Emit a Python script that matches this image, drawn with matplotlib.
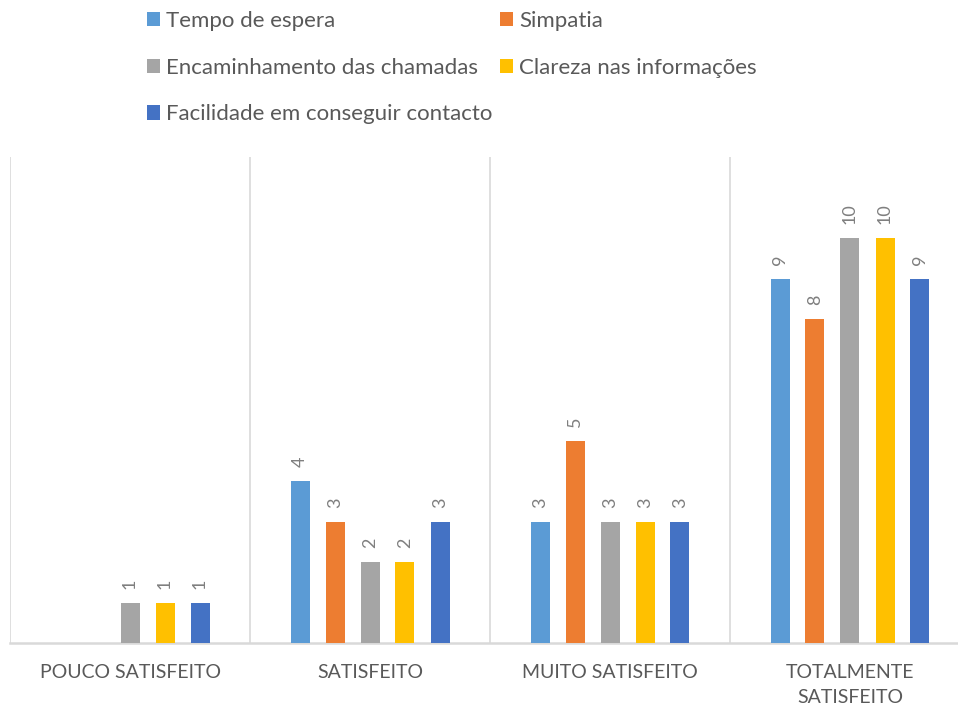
import numpy as np
import matplotlib.pyplot as plt
from matplotlib.patches import Patch

plt.rcParams['font.family'] = ['Lato', 'DejaVu Sans']

# Data
categories = ['POUCO SATISFEITO', 'SATISFEITO', 'MUITO SATISFEITO', 'TOTALMENTE\nSATISFEITO']
series = ['Tempo de espera', 'Simpatia', 'Encaminhamento das chamadas',
          'Clareza nas informações', 'Facilidade em conseguir contacto']
tempo = [0, 4, 3, 9]
simpatia = [0, 3, 5, 8]
encaminhamento = [1, 2, 3, 10]
clareza = [1, 2, 3, 10]
facilidade = [1, 3, 3, 9]
values = [tempo, simpatia, encaminhamento, clareza, facilidade]
colors = ['#5B9BD5', '#ED7D31', '#A5A5A5', '#FFC000', '#4472C4']

W, H = 958, 707
fig = plt.figure(figsize=(W / 100, H / 100), dpi=100)
ax = fig.add_axes([10 / W, (H - 643) / H, 960 / W, (643 - 157) / H])

x = np.arange(len(categories))
step = 35 / 240
width = 19 / 240
for i, (vals, c) in enumerate(zip(values, colors)):
    pos = x + (i - 2) * step
    bars = ax.bar(pos, vals, width=width, color=c, zorder=3)
    for b, v in zip(bars, vals):
        if v == 0:
            continue
        ax.annotate(str(v), (b.get_x() + b.get_width() / 2, v),
                    xytext=(0, 10), textcoords='offset points',
                    ha='center', va='bottom', rotation=90,
                    fontsize=13, color='#7F7F7F')

ax.set_xlim(-0.5, 3.5)
ax.set_ylim(0, 12)
ax.set_yticks([])
ax.set_xticks(x)
ax.set_xticklabels(categories, fontsize=14, color='#595959', linespacing=1.6)
ax.tick_params(axis='x', length=0, pad=15)

# group separators
for sep in [-0.5, 0.5, 1.5, 2.5, 3.5]:
    ax.axvline(sep, color='#D9D9D9', lw=1.2, zorder=1)
for s in ['top', 'right', 'left']:
    ax.spines[s].set_visible(False)
ax.spines['bottom'].set_color('#D9D9D9')
ax.spines['bottom'].set_linewidth(1.8)

# legend, row-major order in two columns
order = [0, 2, 4, 1, 3]
handles = [Patch(facecolor=colors[k], label=series[k]) for k in order]
fig.legend(handles=handles, ncol=2, loc='upper left',
           bbox_to_anchor=(147 / W, 1 - 11 / H), frameon=False,
           borderpad=0, borderaxespad=0,
           fontsize=16, labelcolor='#595959',
           handlelength=0.6, handleheight=0.6, handletextpad=0.25,
           columnspacing=0.35, labelspacing=1.2)

fig.savefig('out.png', dpi=100)
